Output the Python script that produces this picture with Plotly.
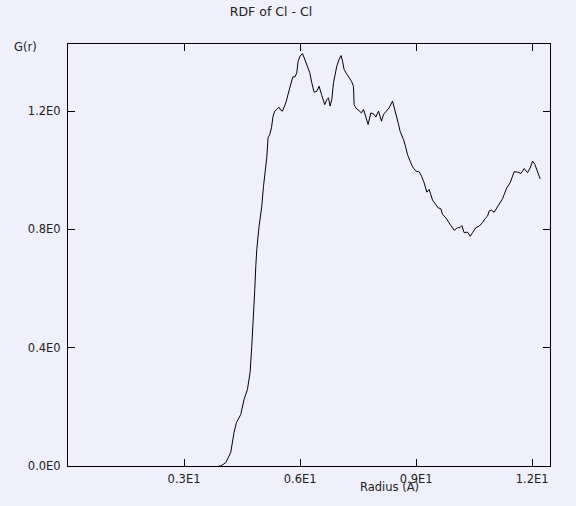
import plotly.graph_objects as go

# radial distribution function
radius = [
    3.90, 3.949, 4.078, 4.207, 4.293, 4.355, 4.466, 4.551, 4.639, 4.707,
    4.750, 4.794, 4.828, 4.854, 4.880, 4.939, 4.983, 5.009, 5.053, 5.094,
    5.138, 5.172, 5.216, 5.260, 5.301, 5.345, 5.456, 5.500, 5.544, 5.630,
    5.715, 5.777, 5.811, 5.870, 5.914, 5.948, 6.000, 6.062, 6.103, 6.147,
    6.206, 6.250, 6.302, 6.362, 6.431, 6.491, 6.553, 6.605, 6.638, 6.690,
    6.734, 6.775, 6.819, 6.863, 6.905, 6.949, 7.008, 7.060, 7.096, 7.137,
    7.199, 7.267, 7.329, 7.380, 7.396, 7.440, 7.525, 7.587, 7.639, 7.698,
    7.758, 7.828, 7.913, 7.957, 8.027, 8.104, 8.156, 8.216, 8.301, 8.389,
    8.474, 8.534, 8.585, 8.673, 8.733, 8.777, 8.844, 8.906, 8.992, 9.077,
    9.139, 9.206, 9.276, 9.335, 9.379, 9.423, 9.509, 9.568, 9.638, 9.682,
    9.767, 9.827, 9.897, 9.982, 10.070, 10.129, 10.181, 10.241, 10.328,
    10.396, 10.458, 10.543, 10.628, 10.716, 10.776, 10.846, 10.887, 10.949,
    11.016, 11.086, 11.146, 11.234, 11.275, 11.345, 11.430, 11.492, 11.534,
    11.621, 11.707, 11.792, 11.880, 11.947, 12.009, 12.069, 12.139, 12.206,
]
g_r = [
    0.0, 0.0, 0.011, 0.046, 0.114, 0.147, 0.174, 0.225, 0.259, 0.316,
    0.404, 0.496, 0.597, 0.675, 0.732, 0.810, 0.844, 0.878, 0.945, 0.993,
    1.043, 1.110, 1.121, 1.144, 1.183, 1.200, 1.213, 1.203, 1.200, 1.228,
    1.267, 1.301, 1.316, 1.316, 1.330, 1.369, 1.386, 1.395, 1.380, 1.363,
    1.347, 1.330, 1.296, 1.264, 1.267, 1.284, 1.256, 1.239, 1.222, 1.239,
    1.245, 1.217, 1.239, 1.296, 1.330, 1.352, 1.375, 1.388, 1.369, 1.341,
    1.327, 1.313, 1.301, 1.284, 1.222, 1.211, 1.200, 1.194, 1.206, 1.177,
    1.155, 1.194, 1.189, 1.180, 1.200, 1.166, 1.189, 1.198, 1.211, 1.234,
    1.194, 1.161, 1.132, 1.104, 1.076, 1.053, 1.031, 1.012, 0.997, 0.995,
    0.980, 0.958, 0.926, 0.935, 0.918, 0.899, 0.884, 0.873, 0.870, 0.851,
    0.839, 0.828, 0.811, 0.797, 0.806, 0.806, 0.813, 0.789, 0.791,
    0.777, 0.789, 0.806, 0.811, 0.823, 0.836, 0.845, 0.862, 0.865,
    0.858, 0.873, 0.890, 0.904, 0.918, 0.941, 0.958, 0.980, 0.995,
    0.994, 0.989, 1.006, 0.992, 1.008, 1.031, 1.020, 0.997, 0.971,
]

x_ticks = [3, 6, 9, 12]
x_tick_text = ["0.3E1", "0.6E1", "0.9E1", "1.2E1"]
y_ticks = [0.0, 0.4, 0.8, 1.2]
y_tick_text = ["0.0E0", "0.4E0", "0.8E0", "1.2E0"]

bg = "#F0F0FC"
font = dict(family="DejaVu Sans", size=11.5, color="#222222")

fig = go.Figure(
    go.Scatter(
        x=radius,
        y=g_r,
        mode="lines",
        line=dict(color="black", width=1),
        hoverinfo="skip",
    )
)

axis_style = dict(
    showline=True,
    linecolor="black",
    linewidth=1,
    mirror="ticks",
    ticks="inside",
    ticklen=7,
    tickcolor="black",
    tickwidth=1,
    showgrid=False,
    zeroline=False,
    tickfont=font,
)

fig.update_xaxes(
    range=[0, 12.46],
    tickvals=x_ticks,
    ticktext=x_tick_text,
    ticklabelstandoff=2,
    **axis_style,
)
fig.update_yaxes(
    range=[0, 1.427],
    tickvals=y_ticks,
    ticktext=y_tick_text,
    ticklabelstandoff=4,
    **axis_style,
)

fig.update_layout(
    width=576,
    height=506,
    margin=dict(l=68, r=26, t=44, b=40),
    paper_bgcolor=bg,
    plot_bgcolor=bg,
    showlegend=False,
    font=font,
    title=dict(
        text="RDF of Cl - Cl",
        x=271 / 576,
        xanchor="center",
        xref="container",
        y=1 - 12 / 506,
        yanchor="middle",
        yref="container",
        font=dict(family="DejaVu Sans", size=12.5, color="#222222"),
    ),
    annotations=[
        dict(
            text="G(r)",
            xref="paper",
            yref="paper",
            x=(25 - 68) / 482,
            y=(466 - 47) / 422,
            xanchor="center",
            yanchor="middle",
            showarrow=False,
            font=font,
        ),
        dict(
            text="Radius (A)",
            xref="paper",
            yref="paper",
            x=(389 - 68) / 482,
            y=(466 - 487) / 422,
            xanchor="center",
            yanchor="middle",
            showarrow=False,
            font=font,
        ),
    ],
)

# drop the browser's default body margin so the figure sits at the page corner
fig.write_html(
    "out.html",
    config={"displayModeBar": False},
    post_script="document.body.style.margin='0';document.body.style.background='" + bg + "';",
)
